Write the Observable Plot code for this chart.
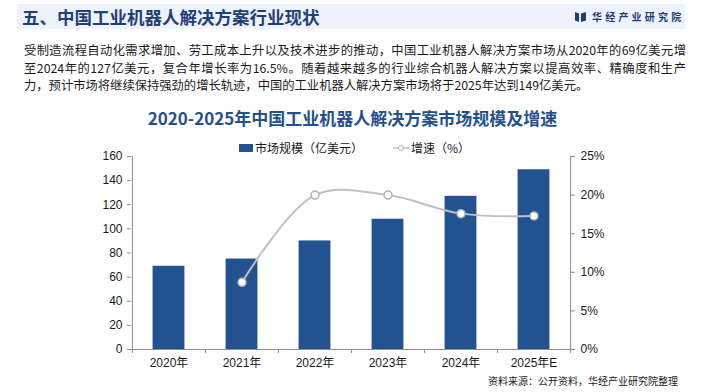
<!DOCTYPE html>
<html><head><meta charset="utf-8">
<script src="https://cdn.jsdelivr.net/npm/d3@7"></script>
<script src="https://cdn.jsdelivr.net/npm/@observablehq/plot@0.6"></script>
<style>
body{margin:0;background:#fff;}
#root{position:relative;width:705px;height:392px;overflow:hidden;font-family:"Noto Sans CJK SC",sans-serif;background:#fff;}
.abs{position:absolute;white-space:nowrap;}
#band{left:17px;top:4px;width:668px;height:25px;background:#eef2fa;}
#htitle{left:22px;top:4px;height:25px;line-height:25px;font-size:17.5px;font-weight:bold;color:#1f3f7b;}
#logo{left:575px;top:4px;height:25px;line-height:25px;font-size:10px;font-weight:bold;color:#1f3f7b;letter-spacing:3.2px;display:flex;align-items:center;}
#para{left:24px;top:42px;width:662px;font-size:12.3px;line-height:17.7px;color:#1a1a1a;white-space:normal;}
#para div{white-space:nowrap;}
#para .j{text-align:justify;text-align-last:justify;}
#ctitle{left:0;width:705px;top:106px;height:24px;line-height:24px;text-align:center;font-size:17px;font-weight:bold;color:#24508e;}
#legend{left:239px;top:140px;height:16px;line-height:16px;font-size:12px;color:#1a1a1a;display:flex;align-items:center;z-index:2;}
#foot{right:27px;top:374px;font-size:10px;line-height:14px;color:#1a1a1a;}
#chart{position:absolute;left:0;top:140px;}
</style></head><body>
<div id="root">
  <div id="band" class="abs"></div>
  <div id="htitle" class="abs">五、中国工业机器人解决方案行业现状</div>
  <div id="logo" class="abs"><svg width="11" height="12" style="margin-right:6px"><path d="M0,1 L4,2.5 L4,11 L0,9.5 Z" fill="#1f3f7b"/><path d="M11,1 L6,2.5 L6,11 L11,9.5 Z" fill="#1f3f7b"/></svg>华经产业研究院</div>
  <div id="para" class="abs">
    <div class="j">受制造流程自动化需求增加、劳工成本上升以及技术进步的推动，中国工业机器人解决方案市场从2020年的69亿美元增</div>
    <div class="j">至2024年的127亿美元，复合年增长率为16.5%。随着越来越多的行业综合机器人解决方案以提高效率、精确度和生产</div>
    <div>力，预计市场将继续保持强劲的增长轨迹，中国的工业机器人解决方案市场将于2025年达到149亿美元。</div>
  </div>
  <div id="ctitle" class="abs">2020-2025年中国工业机器人解决方案市场规模及增速</div>
  <div id="legend" class="abs">
    <span style="display:inline-block;width:14px;height:8px;background:#22528f;margin-right:2px"></span><span>市场规模（亿美元）</span>
    <svg width="16" height="10" style="margin-left:30px;margin-right:2px"><line x1="0" y1="5" x2="16" y2="5" stroke="#bfbfbf" stroke-width="1.5"/><circle cx="8" cy="5" r="2.5" fill="#fff" stroke="#b0b0b0" stroke-width="1"/></svg><span>增速（%）</span>
  </div>
  <div id="foot" class="abs">资料来源：公开资料，华经产业研究院整理</div>
  <div id="chart"></div>
</div>
<script>
const years = ["2020年","2021年","2022年","2023年","2024年","2025年E"];
const marketSize = [69, 75, 90, 108, 127, 149];
const growthPct = [null, 8.7, 20.0, 20.0, 17.6, 17.3];
const leftTicks = [0, 20, 40, 60, 80, 100, 120, 140, 160];
const rightTicks = [0, 5, 10, 15, 20, 25];

const W = 705, H = 252, MT = 16, MB = 43, ML = 131, MR = 135;
const step = (W - ML - MR) / years.length;
const barW = 32;
const yMax = 160, pMax = 25, k = yMax / pMax;
const axisColor = "#8c8c8c";

const rows = years.map((y, i) => ({year: y, size: marketSize[i], g: growthPct[i]}));
const lineRows = rows.filter(d => d.g != null);

const chart = Plot.plot({
  width: W, height: H,
  marginTop: MT, marginBottom: MB, marginLeft: ML, marginRight: MR,
  style: {fontFamily: '"Liberation Sans","Noto Sans CJK SC",sans-serif', fontSize: "12px", color: "#1a1a1a", background: "transparent"},
  x: {type: "band", domain: years, padding: 0, axis: null, label: null},
  y: {domain: [0, yMax], axis: null, label: null},
  marks: [
    Plot.barY(rows, {x: "year", y: "size", fill: "#22528f", insetLeft: (step - barW) / 2, insetRight: (step - barW) / 2}),
    Plot.ruleY([0], {stroke: axisColor}),
    Plot.ruleX([years[0]], {x: d => d, dx: -step / 2, stroke: axisColor}),
    Plot.ruleX([years[years.length - 1]], {x: d => d, dx: step / 2, stroke: axisColor}),
    Plot.ruleX(years, {x: d => d, dx: -step / 2, y1: 0, y2: 0, insetBottom: -4, stroke: axisColor}),
    Plot.ruleX([years[years.length - 1]], {x: d => d, dx: step / 2, y1: 0, y2: 0, insetBottom: -4, stroke: axisColor}),
    Plot.axisY({anchor: "left", label: null, ticks: leftTicks, tickSize: 4, tickPadding: 5, stroke: axisColor, fill: "#1a1a1a", fontSize: 12}),
    Plot.axisY({anchor: "right", label: null, ticks: rightTicks.map(p => p * k), tickFormat: v => Math.round(v / k) + "%", tickSize: 4, tickPadding: 6, stroke: axisColor, fill: "#1a1a1a", fontSize: 12}),
    Plot.axisX({anchor: "bottom", label: null, tickSize: 0, tickPadding: 9, fill: "#1a1a1a", fontSize: 12}),
    Plot.line(lineRows, {x: "year", y: d => d.g * k, curve: "catmull-rom", stroke: "#c0c0c0", strokeWidth: 2}),
    Plot.dot(lineRows, {x: "year", y: d => d.g * k, r: 4, fill: "#ffffff", stroke: "#b3b3b3", strokeWidth: 1.5})
  ]
});
document.getElementById("chart").appendChild(chart);
</script>
</body></html>
